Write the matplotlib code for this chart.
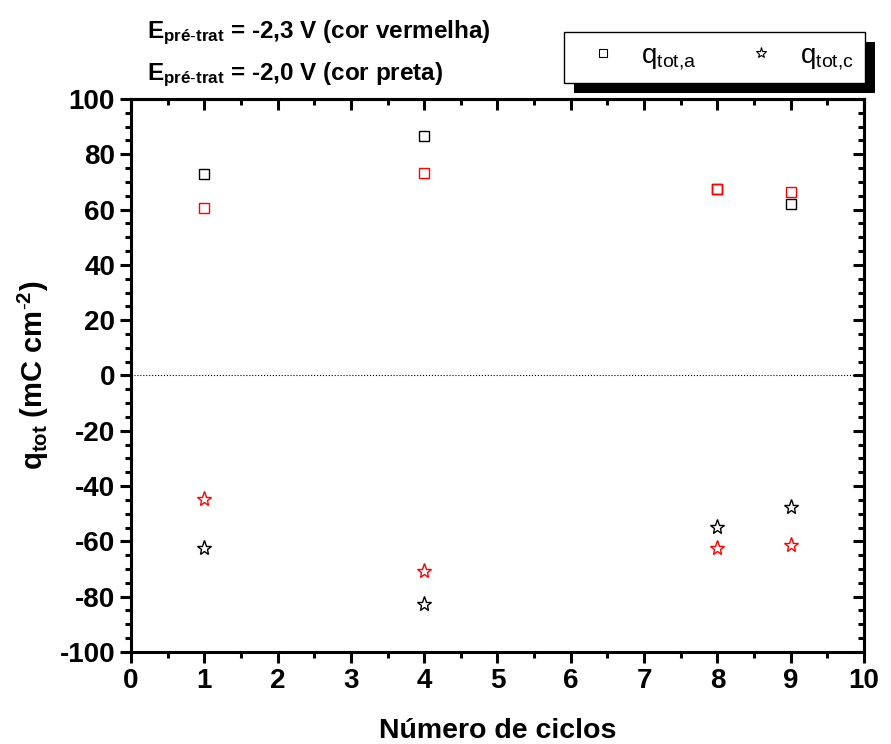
import matplotlib
matplotlib.use('Agg')
import matplotlib.pyplot as plt
from matplotlib.patches import Rectangle

plt.rcParams['font.family'] = ['Liberation Sans', 'DejaVu Sans']
plt.rcParams['mathtext.fontset'] = 'custom'
plt.rcParams['mathtext.rm'] = 'Liberation Sans'
plt.rcParams['mathtext.bf'] = 'Liberation Sans:bold'
plt.rcParams['mathtext.it'] = 'Liberation Sans:italic'
plt.rcParams['axes.unicode_minus'] = False

# data
ciclos = [1, 4, 8, 9]
qa_preta = [72.9, 86.6, 67.5, 62.1]
qa_vermelha = [60.6, 73.2, 67.6, 66.4]
qc_preta = [-62.4, -82.6, -54.8, -47.6]
qc_vermelha = [-44.7, -70.7, -62.4, -61.3]

fig = plt.figure(figsize=(8.91, 7.44), dpi=100)
ax = fig.add_axes([0.147, 0.1237, 0.8227, 0.7433])

ax.axhline(0, color='k', ls=':', lw=0.8, zorder=1)

ax.plot(ciclos, qa_preta, ls='none', marker='s', ms=7.5, mfc='none', mec='black', mew=1.0)
ax.plot(ciclos, qa_vermelha, ls='none', marker='s', ms=7.5, mfc='none', mec='red', mew=1.0)
ax.plot(ciclos, qc_preta, ls='none', marker='*', ms=11, mfc='none', mec='black', mew=1.0)
ax.plot(ciclos, qc_vermelha, ls='none', marker='*', ms=11, mfc='none', mec='red', mew=1.0)

ax.set_xlim(0, 10)
ax.set_ylim(-100, 100)
xmaj = list(range(0, 11))
xmin = [x + 0.5 for x in range(10)]
ymaj = list(range(-100, 101, 20))
ymin = [v for v in range(-95, 100, 5) if v % 20 != 0]
ax.set_xticks(xmaj)
ax.set_yticks(ymaj)
ax.set_xticks(xmin, minor=True)
ax.set_yticks(ymin, minor=True)

for s in ax.spines.values():
    s.set_linewidth(2.2)

ax.tick_params(which='major', direction='out', length=8, width=2.2, labelsize=20)
ax.tick_params(which='minor', direction='out', length=4.5, width=2.2)
for lab in ax.get_xticklabels() + ax.get_yticklabels():
    lab.set_fontweight('bold')

# inward ticks on top and right
ax2 = ax.secondary_xaxis('top')
ax2.set_xticks(xmaj)
ax2.set_xticks(xmin, minor=True)
ax2.tick_params(which='major', direction='in', length=8, width=2.2, labeltop=False)
ax2.tick_params(which='minor', direction='in', length=4.5, width=2.2)
ax3 = ax.secondary_yaxis('right')
ax3.set_yticks(ymaj)
ax3.set_yticks(ymin, minor=True)
ax3.tick_params(which='major', direction='in', length=8, width=2.2, labelright=False)
ax3.tick_params(which='minor', direction='in', length=4.5, width=2.2)
for a in (ax2, ax3):
    for s in a.spines.values():
        s.set_linewidth(2.2)

ax.set_xlabel('Número de ciclos', fontsize=20.5, fontweight='bold', labelpad=17)
ax.set_ylabel(r'$\mathbf{q_{tot}}$ $\mathbf{(mC\ cm^{\text{-}2})}$', fontsize=21, labelpad=6)

fig.text(147 / 891, 1 - 38 / 744, r'E$_{\mathbf{pré\text{-}trat}}$ = -2,3 V (cor vermelha)',
         fontsize=17.5, fontweight='bold', ha='left', va='baseline')
fig.text(147 / 891, 1 - 80 / 744, r'E$_{\mathbf{pré\text{-}trat}}$ = -2,0 V (cor preta)',
         fontsize=17.5, fontweight='bold', ha='left', va='baseline')

# legend
h1, = ax.plot([], [], ls='none', marker='s', ms=6, mfc='none', mec='black', mew=0.8)
h2, = ax.plot([], [], ls='none', marker='*', ms=8, mfc='none', mec='black', mew=0.8)
leg = fig.legend([h1, h2], [r'q$_{\mathrm{tot{,}a}}$', r'q$_{\mathrm{tot{,}c}}$'],
                 loc='upper right', bbox_to_anchor=(865 / 891, 1 - 32 / 744),
                 ncol=2, fontsize=20, frameon=True, fancybox=False, framealpha=1,
                 borderaxespad=0, columnspacing=1.3, handletextpad=0.4,
                 borderpad=0.4, handlelength=2.0)
leg.get_frame().set_edgecolor('black')
leg.get_frame().set_linewidth(1.0)
leg.set_zorder(5)

fig.canvas.draw()
bb = leg.get_window_extent().transformed(fig.transFigure.inverted())
dx, dy = 10 / 891, 10 / 744
fig.patches.append(Rectangle((bb.x0 + dx, bb.y0 - dy), bb.width, bb.height,
                             transform=fig.transFigure, facecolor='black',
                             edgecolor='none', zorder=4))

fig.savefig('out.png', dpi=100)
